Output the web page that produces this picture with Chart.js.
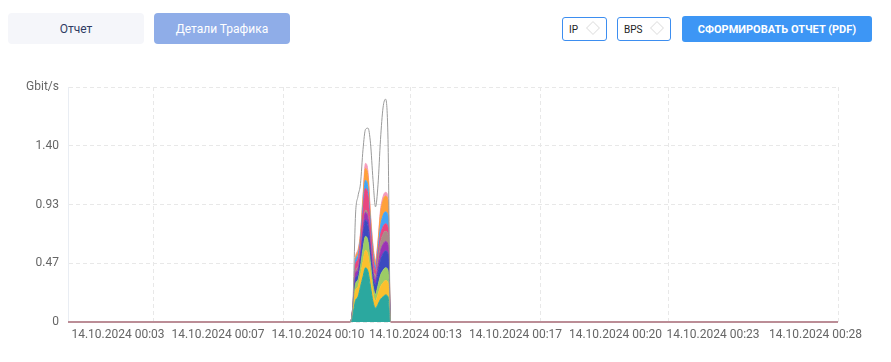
<!DOCTYPE html>
<html><head><meta charset="utf-8">
<script src="https://cdn.jsdelivr.net/npm/chart.js@4.4.1/dist/chart.umd.min.js"></script>
<style>
html,body{margin:0;padding:0;background:#fff;font-family:Roboto,sans-serif;}
body{width:891px;height:362px;position:relative;overflow:hidden;}
.btn{position:absolute;box-sizing:border-box;display:flex;align-items:center;justify-content:center;border-radius:4px;font-size:12px;}
#b1{left:8px;top:13px;width:136px;height:31px;background:#f5f6fa;color:#2f3b63;}
#b2{left:154px;top:13px;width:136px;height:31px;background:#8fade8;color:#fff;}
.sel{position:absolute;box-sizing:border-box;top:17px;height:24px;border:1px solid #3d8ef0;border-radius:3px;font-size:10px;color:#222;display:flex;align-items:center;padding-left:6px;}
#s1{left:562px;width:45px;}
#s2{left:617px;width:54px;}
.dia{position:absolute;right:8px;top:5px;width:10px;height:10px;box-sizing:border-box;border:1px solid #e3e3e3;transform:rotate(45deg);}
#pdf{left:682px;top:16px;width:190px;height:26px;background:#3d96f5;color:#fff;font-size:11px;font-weight:700;border-radius:3px;}
#wrap{position:absolute;left:0;top:60px;width:891px;height:292px;}
</style></head>
<body>
<div class="btn" id="b1">Отчет</div>
<div class="btn" id="b2">Детали Трафика</div>
<div class="sel" id="s1">IP<span class="dia"></span></div>
<div class="sel" id="s2">BPS<span class="dia"></span></div>
<div class="btn" id="pdf">СФОРМИРОВАТЬ ОТЧЕТ (PDF)</div>
<div id="wrap"><canvas id="c"></canvas></div>
<script>
// sample positions (sample index along the time axis)
const sampleX = [0,113,114,115,116,117,118,119,120,121,122,123,124,125,126,127,128,129,130,308];
// stacked traffic series (Gbit/s)
const teal      = [0,0,0.06,0.17,0.20,0.28,0.36,0.43,0.40,0.28,0.16,0.11,0.14,0.18,0.20,0.215,0.20,0,0,0];
const amber     = [0,0,0.02,0.08,0.08,0.09,0.12,0.14,0.13,0.10,0.07,0.06,0.08,0.10,0.11,0.115,0.11,0,0,0];
const green     = [0,0,0.02,0.05,0.055,0.07,0.10,0.11,0.11,0.08,0.06,0.05,0.07,0.09,0.10,0.10,0.10,0,0,0];
const indigo    = [0,0,0.01,0.04,0.045,0.06,0.10,0.13,0.12,0.09,0.07,0.08,0.10,0.12,0.13,0.135,0.13,0,0,0];
const purple    = [0,0,0.01,0.04,0.04,0.04,0.05,0.06,0.06,0.05,0.04,0.04,0.05,0.07,0.075,0.075,0.07,0,0,0];
const brown     = [0,0,0.005,0.02,0.02,0.02,0.02,0.02,0.02,0.02,0.03,0.03,0.05,0.07,0.08,0.08,0.08,0,0,0];
const magenta   = [0,0,0.01,0.05,0.06,0.07,0.12,0.17,0.16,0.11,0.07,0.04,0.05,0.06,0.06,0.06,0.06,0,0,0];
const lightBlue = [0,0,0.005,0.03,0.035,0.03,0.05,0.065,0.06,0.05,0.04,0.03,0.04,0.07,0.09,0.095,0.09,0,0,0];
const orange    = [0,0,0.005,0.02,0.025,0.03,0.06,0.095,0.09,0.05,0.05,0.03,0.05,0.10,0.12,0.125,0.12,0,0,0];
const pink      = [0,0,0.005,0.01,0.015,0.02,0.03,0.04,0.04,0.03,0.02,0.02,0.02,0.03,0.03,0.03,0.03,0,0,0];
// total line
const total     = [0,0,0.17,0.85,1.00,1.10,1.37,1.53,1.54,1.42,1.13,0.915,1.09,1.45,1.70,1.77,1.45,0,0,0];

const tickIdx = [20,60,100,139,179,219,258,299];
const tickLabels = ['14.10.2024 00:03','14.10.2024 00:07','14.10.2024 00:10','14.10.2024 00:13','14.10.2024 00:17','14.10.2024 00:20','14.10.2024 00:23','14.10.2024 00:28'];
const gridIdx = [34,86,137,189,240,308];
const yTickVals = [0,0.4667,0.9333,1.4,1.8667];
const yTickLabels = ['0','0.47','0.93','1.40','Gbit/s'];

const layers = [
  ['teal',teal,'#2ba89f'],['amber',amber,'#fbc02d'],['green',green,'#9ccc65'],
  ['indigo',indigo,'#3a4bc0'],['purple',purple,'#9b33b5'],['brown',brown,'#a88a86'],
  ['magenta',magenta,'#e9467f'],['lightBlue',lightBlue,'#42a5f5'],['orange',orange,'#ffa03a'],
  ['pink',pink,'#f59abb']
];
const pts = arr => sampleX.map((x,j)=>({x:x,y:arr[j]}));
const datasets = layers.map((l,i)=>({
  label:l[0], data:pts(l[1]), backgroundColor:l[2], borderColor:l[2], borderWidth:1,
  fill: i===0 ? 'origin' : '-1', stack:'traffic', pointRadius:0, cubicInterpolationMode:'monotone'
}));
const isZero = c => c.p0.parsed.y===0 && c.p1.parsed.y===0;
datasets.push({
  label:'total', data:pts(total), borderColor:'#9a9a9a', borderWidth:1, fill:false, clip:6,
  stack:'total', order:-1, pointRadius:0, cubicInterpolationMode:'monotone',
  segment:{ borderColor: c => isZero(c) ? '#bb8d96' : '#9a9a9a', borderWidth: c => isZero(c) ? 2 : 1 }
});
const allTicks = tickIdx.concat(gridIdx).sort((a,b)=>a-b);
Chart.defaults.font.family = 'Roboto';
new Chart(document.getElementById('c'), {
  type:'line',
  data:{datasets},
  options:{
    responsive:true, maintainAspectRatio:false, animation:false, devicePixelRatio:1,
    layout:{padding:{top:27,right:53,left:0,bottom:0}},
    plugins:{legend:{display:false},tooltip:{enabled:false}},
    scales:{
      x:{type:'linear',min:0,max:308,
        afterBuildTicks:s=>{s.ticks=allTicks.map(v=>({value:v}));},
        afterFit:s=>{s.height=30;},
        ticks:{autoSkip:false,maxRotation:0,padding:6,color:'#666',font:{size:12},
          callback:v=>{const k=tickIdx.indexOf(v);return k>=0?tickLabels[k]:'';}},
        grid:{drawTicks:false,color:c=>gridIdx.includes(c.tick&&c.tick.value)?'#e8e8e8':'rgba(0,0,0,0)'},
        border:{display:false,dash:[4,3]}
      },
      y:{stacked:true,min:0,max:1.8667,
        afterBuildTicks:s=>{s.ticks=yTickVals.map(v=>({value:v}));},
        afterFit:s=>{s.width=68;},
        ticks:{padding:9,color:'#666',font:{size:12},callback:(v,i)=>yTickLabels[i]},
        grid:{drawTicks:false,color:'#e8e8e8'},
        border:{display:true,color:'#e9edf3',dash:[4,3]}
      }
    }
  }
});
</script>
</body></html>
